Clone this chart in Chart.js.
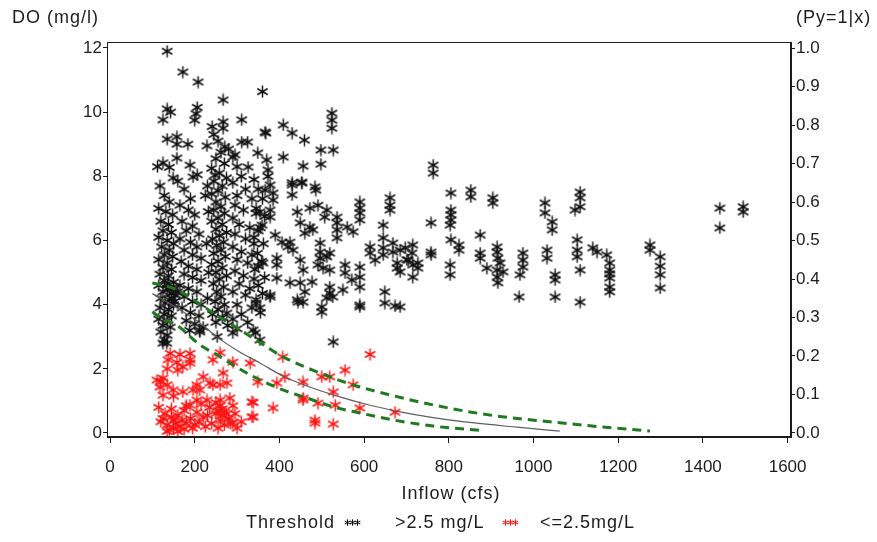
<!DOCTYPE html>
<html>
<head>
<meta charset="utf-8">
<title>DO vs Inflow</title>
<script src="https://cdn.jsdelivr.net/npm/chart.js@4.4.1/dist/chart.umd.min.js"></script>
<style>
  body { margin: 0; background: #fff; }
  #wrap { width: 877px; height: 542px; }
</style>
</head>
<body>
<div id="wrap"><canvas id="chart" width="877" height="542"></canvas></div>
<script>
"use strict";

// axis text
const yTitle = "DO (mg/l)";
const y2Title = "(Py=1|x)";
const xTitle = "Inflow (cfs)";
const legendTitle = "Threshold";
const aboveLabel = ">2.5 mg/L";
const belowLabel = "<=2.5mg/L";

// DO observations above the threshold [inflow, DO]
const aboveThreshold = [
  [135,11.9],[172,11.25],[208,10.94],[360,10.64],[267,10.38],[135,10.1],[143,10.0],[125,9.76],[206,10.15],[203,9.95],
  [200,9.75],[311,9.76],[267,9.7],[267,9.5],[241,9.55],[366,9.38],[135,9.16],[158,9.23],[158,9.0],[184,9.0],
  [229,8.95],[271,8.92],[280,8.85],[311,9.07],[325,9.07],[295,8.67],[349,8.73],[125,8.42],[112,8.3],[140,8.28],
  [158,8.57],[189,8.35],[326,8.29],[370,8.51],[149,7.95],[196,7.98],[206,8.05],[248,8.04],[524,9.97],[524,9.75],
  [524,9.5],[368,9.35],[409,9.6],[430,9.35],[459,9.13],[498,8.82],[527,8.82],[409,8.6],[373,8.2],[373,8.0],
  [456,8.32],[498,8.38],[430,7.8],[453,7.82],[484,7.67],[378,7.73],[763,8.35],[763,8.1],
  [118,7.7],[128,7.4],[140,7.2],[115,7.0],[132,6.9],[148,6.8],[120,6.6],[138,6.5],[125,6.3],[145,6.25],
  [115,6.1],[135,6.0],[150,5.9],[122,5.8],[140,5.7],[128,5.55],[148,5.5],[115,5.4],[135,5.3],[125,5.15],
  [145,5.1],[118,4.95],[138,4.9],[128,4.75],[150,4.7],[115,4.6],[135,4.5],[125,4.4],[145,4.35],[120,4.2],
  [140,4.15],[130,4.05],[150,4.0],[118,3.9],[138,3.85],[128,3.7],[145,3.65],[115,3.55],[135,3.5],[125,3.35],
  [142,3.3],[120,3.15],[135,3.05],[128,2.9],[140,4.5],[150,4.55],[155,4.3],[145,4.2],[160,4.4],[135,4.65],
  [152,4.1],[125,2.8],[134,2.8],
  [160,7.85],[175,7.6],[190,7.3],[165,7.1],[185,6.95],[200,6.8],[170,6.6],[195,6.45],[180,6.3],[210,6.2],
  [165,6.05],[190,5.95],[205,5.8],[175,5.7],[195,5.55],[215,5.45],[168,5.35],[185,5.2],[205,5.1],[175,4.95],
  [195,4.85],[215,4.75],[165,4.6],[185,4.5],[205,4.4],[175,4.25],[195,4.1],[215,4.0],[170,3.9],[190,3.75],
  [210,3.65],[180,3.5],[200,3.4],[220,3.3],[188,3.2],[212,3.15],[230,7.7],[225,7.4],[232,6.9],[228,5.9],
  [233,5.0],[230,4.2],
  [245,9.3],[255,9.1],[262,8.75],[250,8.55],[270,8.4],[240,8.25],[258,8.1],[275,7.95],[245,7.85],[265,7.7],
  [255,7.55],[240,7.45],[272,7.35],[250,7.2],[262,7.05],[245,6.95],[270,6.85],[255,6.7],[240,6.6],[265,6.5],
  [250,6.35],[275,6.25],[258,6.15],[242,6.05],[268,5.95],[252,5.85],[262,5.7],[245,5.6],[272,5.5],[255,5.35],
  [240,5.25],[265,5.15],[250,5.0],[275,4.9],[258,4.8],[244,4.65],[268,4.55],[252,4.4],[262,4.25],[248,4.1],
  [270,4.0],[255,3.85],[242,3.7],[265,3.6],[250,3.45],[278,3.35],
  [290,8.6],[300,8.3],[310,8.0],[290,7.8],[320,7.6],[300,7.4],[335,7.3],[295,7.1],[315,6.95],[345,6.85],
  [290,6.7],[305,6.5],[330,6.4],[350,6.3],[295,6.2],[320,6.05],[340,5.9],[290,5.8],[310,5.65],[335,5.55],
  [300,5.4],[325,5.3],[350,5.2],[295,5.05],[315,4.9],[340,4.8],[305,4.65],[330,4.5],[290,4.4],[320,4.3],
  [345,4.15],[300,4.0],[335,3.9],[310,3.7],[290,3.55],[325,3.45],[300,3.25],[343,3.12],
  [366,7.57],[385,7.48],[385,7.26],[378,6.95],[378,6.73],[354,6.89],[359,6.48],[390,6.17],[406,5.95],[425,5.95],
  [420,5.8],[432,5.7],[394,5.45],[361,5.3],[394,5.24],[394,4.83],[425,4.68],[378,4.24],[442,6.89],[449,6.55],
  [442,4.15],[354,3.9],[430,7.73],[430,7.42],[340,7.9],[350,7.6],[360,7.3],[345,7.0],[365,6.75],[355,6.4],
  [340,6.1],[362,5.9],[348,5.6],[358,5.35],[342,5.1],[365,4.85],[350,4.6],[360,4.35],[345,4.05],[355,3.75],
  [453,7.79],[486,7.57],[472,7.01],[491,7.1],[512,6.95],[507,6.73],[536,6.73],[536,6.55],[536,6.33],[536,6.08],
  [560,6.42],[574,6.27],[472,6.42],[460,6.23],[479,6.33],[496,5.92],[496,5.64],[496,5.45],[491,5.24],[503,5.14],
  [512,5.49],[449,5.39],[456,5.08],[519,5.61],[519,5.08],[555,5.24],[555,4.99],[571,4.77],[590,5.17],[590,4.86],
  [590,4.55],[449,4.68],[477,4.71],[460,4.4],[456,4.08],[519,4.55],[519,4.36],[512,4.21],[526,4.24],[500,3.93],
  [500,3.77],[550,4.46],[590,3.99],[590,7.2],[590,7.01],[590,6.86],[590,6.64],
  [661,7.33],[661,7.1],[661,6.95],[645,6.48],[645,6.08],[614,5.8],[614,5.61],[626,5.39],[645,5.55],[645,5.77],
  [668,5.92],[668,5.64],[678,5.3],[678,5.14],[685,5.02],[697,5.77],[704,5.39],[713,5.61],[715,5.86],[715,5.24],
  [715,4.86],[649,4.4],[649,4.05],[673,3.96],[685,3.93],[701,5.4],[727,5.3],[727,5.14],[685,5.7],
  [758,6.55],[758,5.64],[758,5.55],[805,7.48],[805,6.95],[805,6.8],[805,6.64],[803,6.48],[852,7.57],[852,7.36],
  [904,7.33],[904,7.17],[874,6.17],[805,6.02],[824,5.86],[824,5.7],[803,5.24],[803,4.93],[874,5.61],[874,5.45],
  [890,5.14],[914,5.8],[914,5.64],[916,5.45],[921,5.3],[914,5.08],[928,5.02],[914,4.86],[916,4.68],[975,5.61],
  [975,5.39],[975,5.17],[968,4.93],[966,4.24],[1027,7.17],[1027,6.86],[1044,6.58],[1044,6.33],[1032,5.7],[1032,5.45],
  [1051,4.93],[1051,4.77],[1051,4.24],
  [1110,7.51],[1110,7.33],[1110,7.05],[1098,6.95],[1103,6.02],[1103,5.7],[1103,5.49],[1110,5.08],[1110,4.08],[1140,5.77],
  [1150,5.64],[1173,5.55],[1180,5.3],[1180,5.08],[1180,4.96],[1180,4.83],[1180,4.55],[1180,4.4],[1275,5.86],[1275,5.7],
  [1299,5.49],[1299,5.2],[1299,4.93],[1299,4.52],[1440,7.01],[1440,6.39],[1495,7.05],[1495,6.89],
  [276,3.74],[290,3.12],[253,3.0],[212,3.21],[338,3.21],[354,2.9],[527,2.84],[378,4.3],[444,4.08],[590,3.93]
];

// DO observations at or below the threshold [inflow, DO]
const belowThreshold = [
  [142,2.48],[165,2.45],[189,2.48],[137,2.28],[158,2.2],[189,2.28],[172,2.06],[135,2.0],[160,1.96],[189,2.18],
  [260,2.5],[243,2.28],[267,1.87],[290,2.21],[276,1.56],[111,1.65],[125,1.71],[118,1.43],[125,1.18],[149,1.34],
  [172,1.28],[196,1.34],[212,1.34],[236,1.56],[243,1.5],[260,1.5],[205,1.03],[229,1.03],[189,0.87],[260,1.03],
  [283,1.09],[335,0.97],[385,0.78],[338,0.5],[331,2.18],[408,2.37],[413,1.75],[456,1.59],[456,1.03],[394,1.56],
  [349,1.59],[120,1.6],[135,1.5],[150,1.15],[220,1.75],[205,1.5],
  [115,0.8],[130,0.6],[145,0.75],[160,0.55],[175,0.7],[190,0.45],[205,0.65],[220,0.5],[235,0.8],[250,0.6],
  [265,0.75],[280,0.45],[295,0.6],[310,0.35],[120,0.35],[135,0.25],[150,0.4],[165,0.2],[180,0.3],[195,0.15],
  [210,0.35],[225,0.2],[240,0.3],[255,0.15],[270,0.25],[285,0.3],[300,0.15],[140,0.1],[160,0.05],[175,0.12],
  [155,0.3],[145,0.5],[170,0.4],[200,0.25],[230,0.55],[260,0.4],[275,0.6],[290,0.85],[250,0.95],[215,0.9],
  [180,0.85],[125,0.45],[135,0.05],[150,0.15],[255,0.7],[265,0.55],[260,0.85],[270,0.65],
  [614,2.45],[555,1.96],[519,1.75],[500,1.75],[574,1.5],[527,1.28],[532,0.87],[491,0.93],[456,1.09],[590,0.78],
  [673,0.65],[484,0.4],[484,0.31],[527,0.28],[338,0.95],[290,0.31],[335,0.5]
];

// logistic fit and its confidence band, on the probability axis [inflow, P]
const fitCurve = [
  [100,0.362],[158,0.325],[212,0.286],[253,0.249],[307,0.21],[354,0.182],[408,0.148],[465,0.122],
  [527,0.099],[607,0.074],[685,0.055],[763,0.04],[843,0.028],[961,0.015],[1062,0.005]
];
const upperBand = [
  [100,0.39],[158,0.372],[212,0.335],[260,0.3],[307,0.268],[354,0.235],[408,0.198],[491,0.158],
  [574,0.125],[668,0.097],[763,0.073],[843,0.056],[921,0.043],[1032,0.03],[1150,0.017],[1275,0.005]
];
const lowerBand = [
  [100,0.315],[118,0.3],[158,0.28],[212,0.229],[253,0.203],[290,0.177],[331,0.151],[408,0.112],
  [465,0.091],[527,0.068],[590,0.052],[668,0.034],[763,0.018],[881,0.006]
];

const xTicks = [0, 200, 400, 600, 800, 1000, 1200, 1400, 1600];
const yTicks = [0, 2, 4, 6, 8, 10, 12];
const y2Ticks = [0, 0.1, 0.2, 0.3, 0.4, 0.5, 0.6, 0.7, 0.8, 0.9, 1.0];

(function() {
  window.addEventListener("load", init);

  const FONT = '"Liberation Sans", Arial, sans-serif';
  const INK = "#1c1c1c";

  function init() {
    let blackStar = makeStar("#111111", 13, 1.45);
    let redStar = makeStar("#ff1414", 13, 1.45);

    let ctx = id("chart").getContext("2d");
    new Chart(ctx, {
      type: "scatter",
      data: {
        datasets: [
          curve(fitCurve, "#5e5e5e", 1.2, []),
          curve(upperBand, "#1f7a1f", 3, [9, 6]),
          curve(lowerBand, "#1f7a1f", 3, [9, 6]),
          {
            label: belowLabel,
            data: toPoints(belowThreshold),
            pointStyle: redStar,
            yAxisID: "y",
            order: 2
          },
          {
            label: aboveLabel,
            data: toPoints(aboveThreshold),
            pointStyle: blackStar,
            yAxisID: "y",
            order: 3
          }
        ]
      },
      options: {
        responsive: false,
        animation: false,
        events: [],
        layout: { padding: { top: 42, left: 0, right: 0, bottom: 0 } },
        scales: {
          x: {
            type: "linear",
            min: -7.1,
            max: 1608,
            afterFit: s => { s.height = 105; },
            afterBuildTicks: s => { s.ticks = xTicks.map(v => ({ value: v })); },
            grid: { drawOnChartArea: false, tickLength: 6, tickColor: INK },
            border: { color: INK },
            ticks: { color: INK, font: { family: FONT, size: 17 }, padding: 14, maxRotation: 0,
                     callback: v => String(v) }
          },
          y: {
            position: "left",
            min: -0.125,
            max: 12.187,
            afterFit: s => { s.width = 107; },
            afterBuildTicks: s => { s.ticks = yTicks.map(v => ({ value: v })); },
            grid: { drawOnChartArea: false, tickLength: 4, tickColor: INK },
            border: { color: INK },
            ticks: { color: INK, font: { family: FONT, size: 17 }, padding: 1,
                     callback: v => String(v) }
          },
          y2: {
            position: "right",
            min: -0.0104,
            max: 1.0156,
            afterFit: s => { s.width = 86; },
            afterBuildTicks: s => { s.ticks = y2Ticks.map(v => ({ value: v })); },
            grid: { drawOnChartArea: false, tickLength: 4, tickColor: INK },
            border: { color: INK },
            ticks: { color: INK, font: { family: FONT, size: 17 }, padding: 1,
                     callback: v => Number(v).toFixed(1) }
          }
        },
        plugins: {
          legend: { display: false },
          tooltip: { enabled: false }
        }
      },
      plugins: [frameAndText(blackStar, redStar)]
    });
  }

  function curve(points, color, width, dash) {
    return {
      type: "line",
      data: toPoints(points),
      borderColor: color,
      borderWidth: width,
      borderDash: dash,
      pointRadius: 0,
      fill: false,
      cubicInterpolationMode: "monotone",
      yAxisID: "y2",
      order: 1
    };
  }

  function toPoints(arr) {
    return arr.map(p => ({ x: p[0], y: p[1] }));
  }

  // six-armed asterisk like the original plot symbol
  function makeStar(color, size, lw) {
    let c = gen("canvas");
    c.width = size;
    c.height = size;
    let g = c.getContext("2d");
    let r = size / 2 - 0.5;
    let mid = size / 2;
    g.strokeStyle = color;
    g.lineWidth = lw;
    g.beginPath();
    [90, 30, 150].forEach(deg => {
      let a = deg * Math.PI / 180;
      g.moveTo(mid - r * Math.cos(a), mid - r * Math.sin(a));
      g.lineTo(mid + r * Math.cos(a), mid + r * Math.sin(a));
    });
    g.stroke();
    return c;
  }

  function frameAndText(blackStar, redStar) {
    return {
      id: "frameAndText",
      afterDraw(chart) {
        let c = chart.ctx;
        let a = chart.chartArea;
        c.save();
        c.strokeStyle = INK;
        c.lineWidth = 1;
        c.strokeRect(a.left + 0.5, a.top + 0.5, a.right - a.left - 1, a.bottom - a.top - 1);

        c.fillStyle = INK;
        c.font = "18px " + FONT;
        c.letterSpacing = "1px";
        c.textBaseline = "middle";
        c.textAlign = "left";
        c.fillText(yTitle, 12, 18);
        c.fillText(y2Title, 796, 18);

        c.textAlign = "center";
        c.fillText(xTitle, 451, 494);

        c.textAlign = "left";
        c.fillText(legendTitle, 246, 523);
        c.fillText(aboveLabel, 395, 523);
        c.fillText(belowLabel, 540, 523);
        [347, 352, 357].forEach(x => c.drawImage(blackStar, x - 3, 519, 7, 7));
        [505, 510, 515].forEach(x => c.drawImage(redStar, x - 3, 519, 7, 7));
        c.restore();
      }
    };
  }

  /**
   * Returns a new element with the given tag name.
   */
  function gen(tagName) {
    return document.createElement(tagName);
  }

  /**
   * Returns the element that has the ID attribute with the specified value.
   */
  function id(name) {
    return document.getElementById(name);
  }
})();
</script>
</body>
</html>
